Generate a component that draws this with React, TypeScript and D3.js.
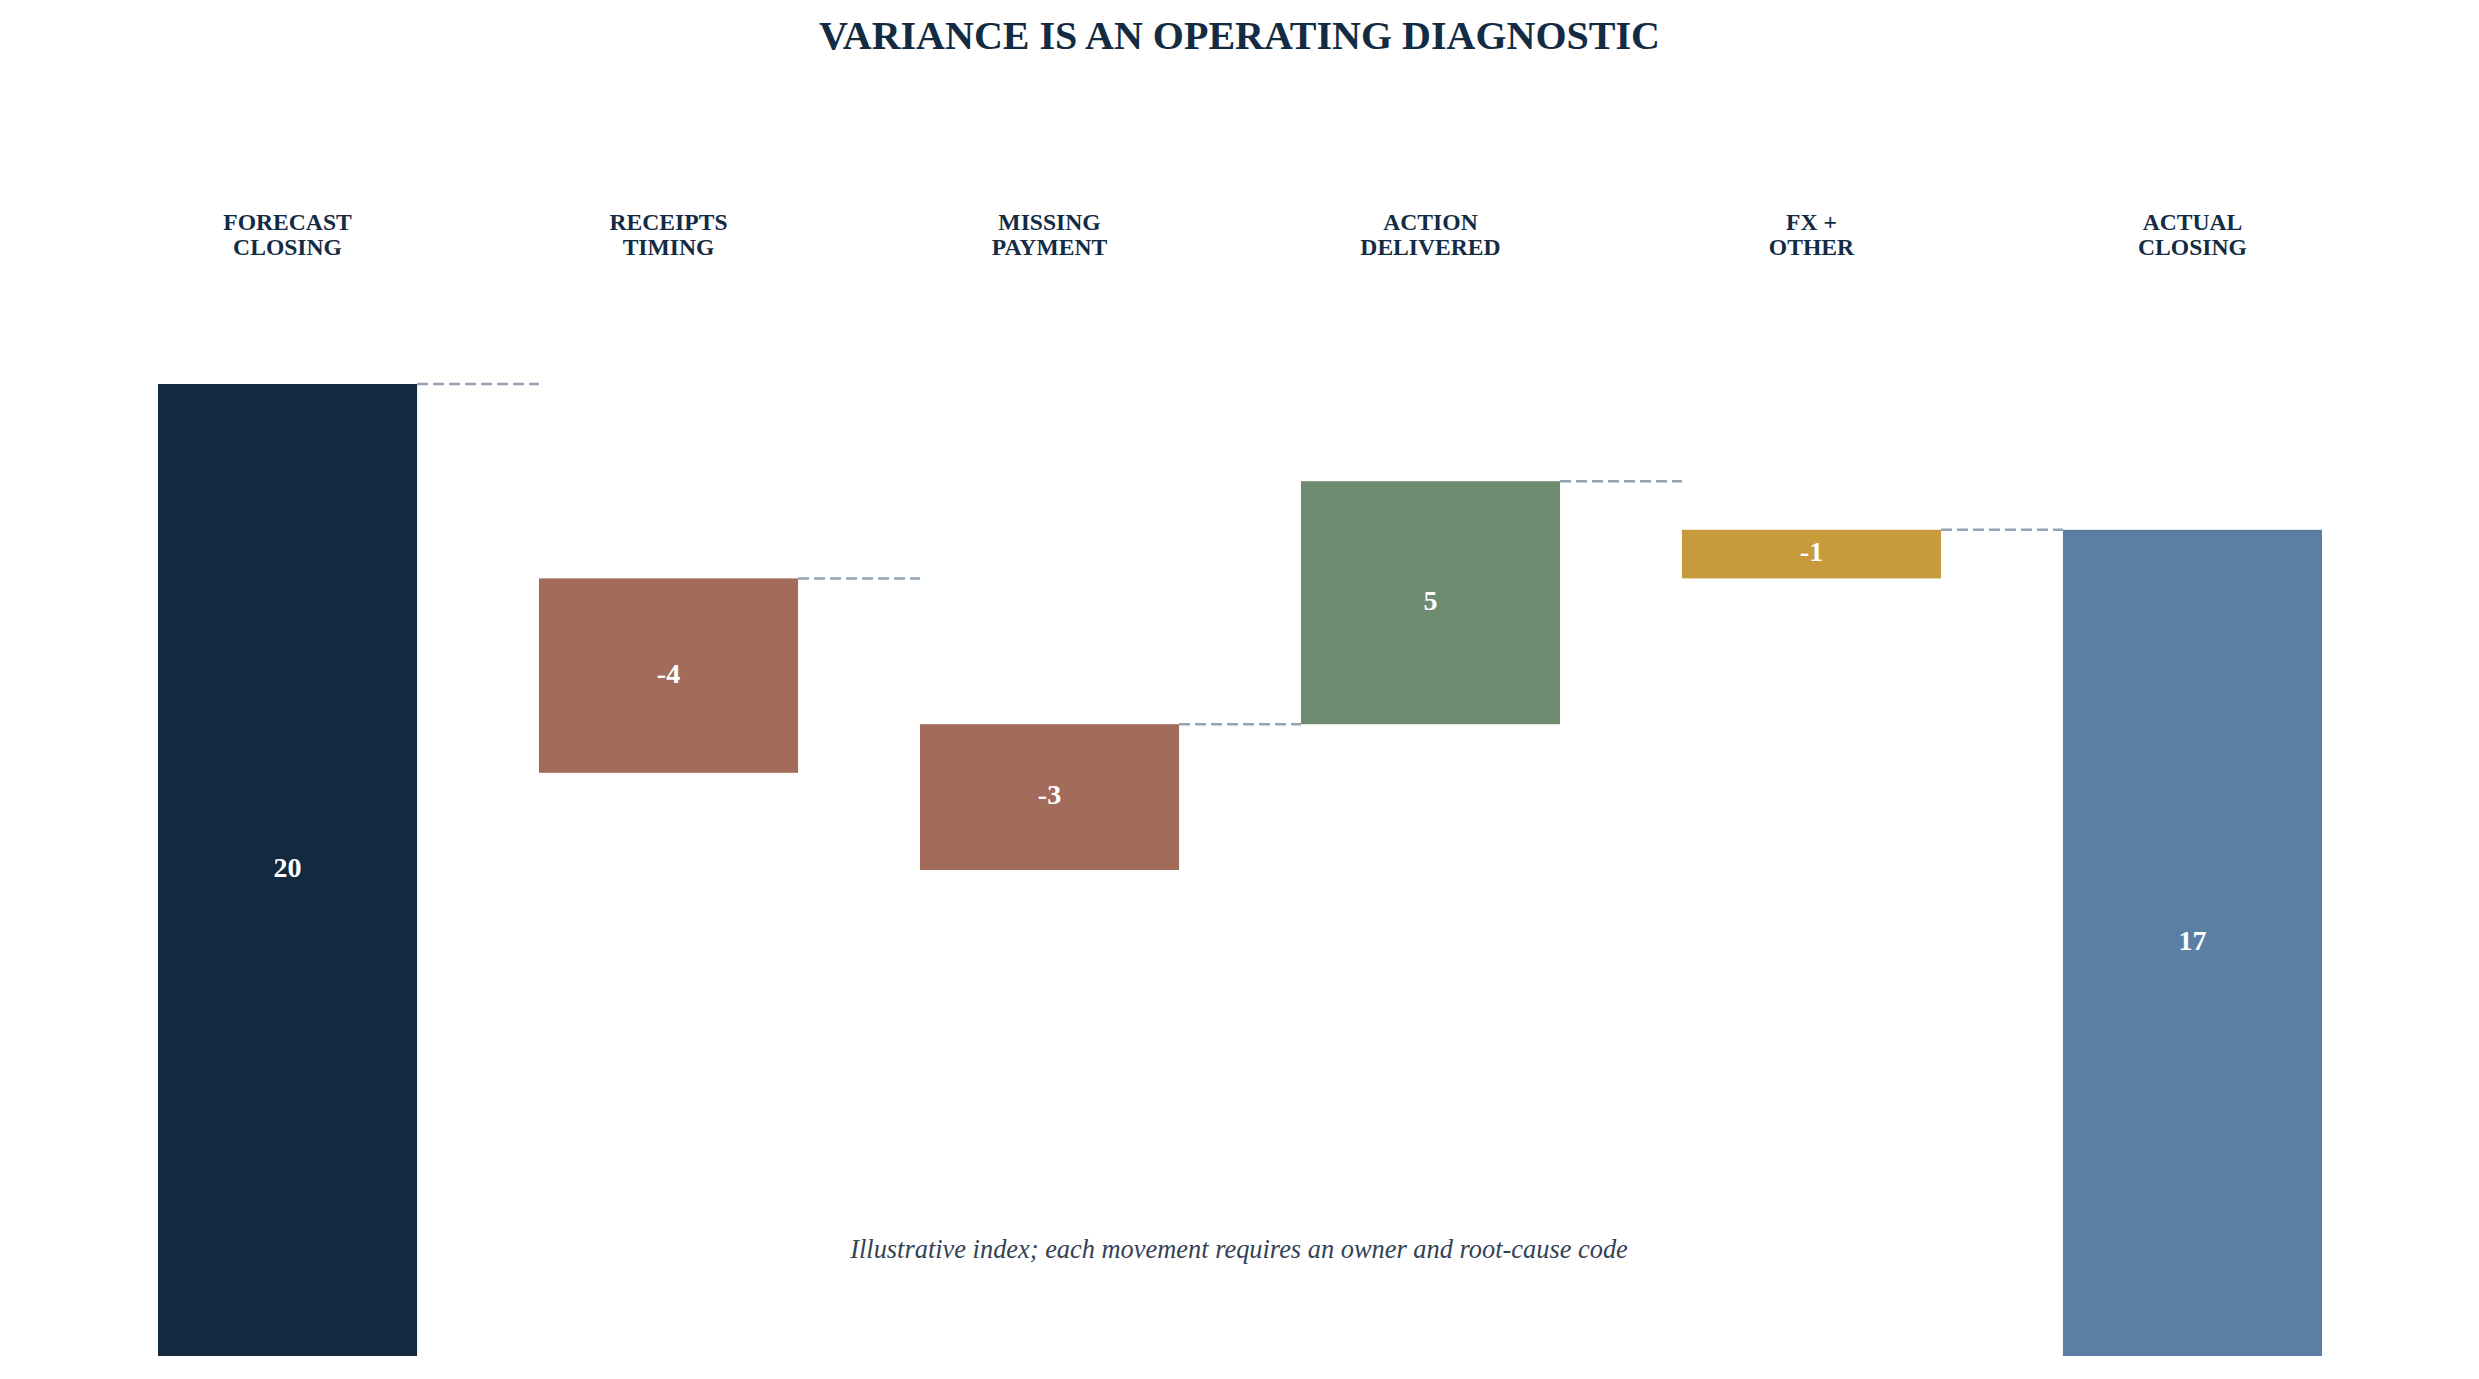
import React, { useEffect } from "react";
import * as d3 from "d3";

const W = 2479;
const H = 1379;

const title = "VARIANCE IS AN OPERATING DIAGNOSTIC";
const footnote = "Illustrative index; each movement requires an owner and root-cause code";

const categoryLines: string[][] = [
  ["FORECAST", "CLOSING"],
  ["RECEIPTS", "TIMING"],
  ["MISSING", "PAYMENT"],
  ["ACTION", "DELIVERED"],
  ["FX +", "OTHER"],
  ["ACTUAL", "CLOSING"],
];
const values: number[] = [20, -4, -3, 5, -1, 17];
const kinds: string[] = ["total", "delta", "delta", "delta", "delta", "total"];
const barColors: string[] = ["#12293f", "#a36b59", "#a36b59", "#6e8b72", "#c79b3b", "#5b7fa3"];

const NAVY = "#132b43";
const DASH = "#94a3b4";
const SERIF = "'Liberation Serif', 'Times New Roman', Times, serif";

export default function App() {
  useEffect(() => {
    document.body.style.margin = "0";
  }, []);

  const x = d3
    .scaleBand<number>()
    .domain(values.map((_, i) => i))
    .range([158, 2322])
    .paddingInner(0.32)
    .paddingOuter(0);
  const y = d3.scaleLinear().domain([0, 20]).range([1356, 384]);

  // running totals
  const ends: number[] = [];
  let run = 0;
  values.forEach((v, i) => {
    run = kinds[i] === "total" ? v : run + v;
    ends.push(run);
  });

  const bars = values.map((v, i) => {
    const end = ends[i];
    const top = y(end);
    const h = y(0) - y(Math.abs(v));
    return { i, v, x: x(i)!, w: x.bandwidth(), top, h };
  });

  return (
    <svg width={W} height={H} style={{ display: "block", background: "#fff" }}>
      <text
        x={W / 2}
        y={49}
        textAnchor="middle"
        fontFamily={SERIF}
        fontWeight="bold"
        fontSize={40}
        fill={NAVY}
      >
        {title}
      </text>

      {categoryLines.map((lines, i) => (
        <text
          key={"c" + i}
          x={x(i)! + x.bandwidth() / 2}
          y={230}
          textAnchor="middle"
          fontFamily={SERIF}
          fontWeight="bold"
          fontSize={23.6}
          fill={NAVY}
        >
          {lines.map((l, j) => (
            <tspan key={j} x={x(i)! + x.bandwidth() / 2} dy={j === 0 ? 0 : 25}>
              {l}
            </tspan>
          ))}
        </text>
      ))}

      {bars.slice(0, -1).map((b, i) => (
        <line
          key={"d" + i}
          x1={b.x + b.w}
          x2={x(i + 1)!}
          y1={y(ends[i])}
          y2={y(ends[i])}
          stroke={DASH}
          strokeWidth={2.5}
          strokeDasharray="11,5"
        />
      ))}

      {bars.map((b) => (
        <g key={"b" + b.i}>
          <rect x={b.x} y={b.top} width={b.w} height={b.h} fill={barColors[b.i]} />
          <text
            x={b.x + b.w / 2}
            y={b.top + b.h / 2}
            dy="0.25em"
            textAnchor="middle"
            fontFamily={SERIF}
            fontWeight="bold"
            fontSize={28}
            fill="#ffffff"
          >
            {String(b.v)}
          </text>
        </g>
      ))}

      <text
        x={1239}
        y={1258}
        textAnchor="middle"
        fontFamily={SERIF}
        fontStyle="italic"
        fontSize={26.4}
        fill="#344256"
      >
        {footnote}
      </text>
    </svg>
  );
}
